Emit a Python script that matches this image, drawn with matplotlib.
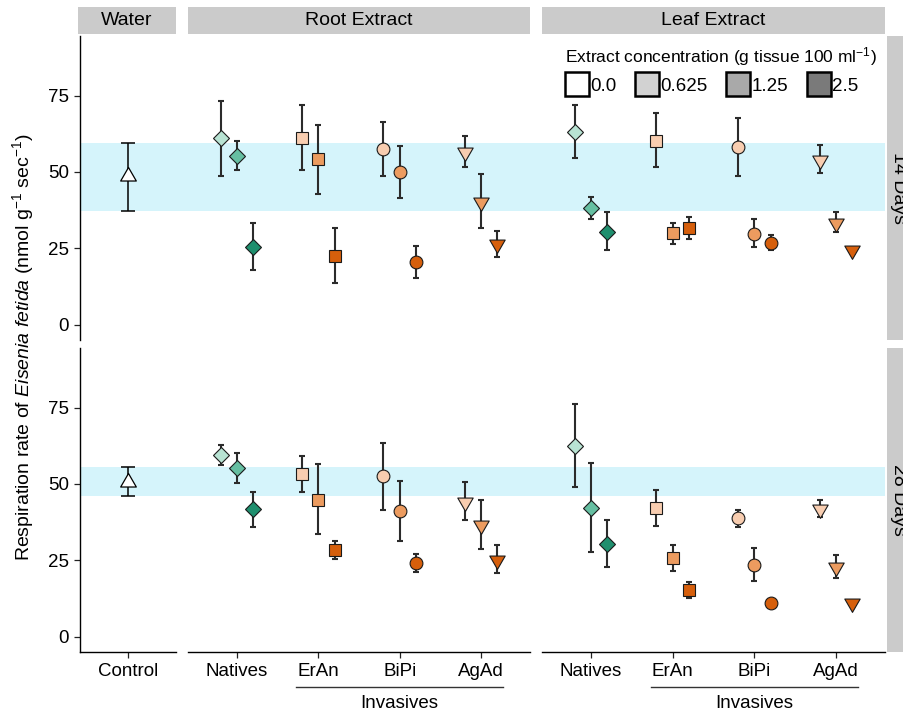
import matplotlib
matplotlib.use("Agg")
import matplotlib.pyplot as plt
import matplotlib.patches as mpatches
import matplotlib.transforms as mtransforms
from matplotlib.path import Path
from matplotlib.lines import Line2D
import numpy as np

plt.rcParams['font.family'] = ['Liberation Sans', 'DejaVu Sans']
plt.rcParams['mathtext.fontset'] = 'custom'
plt.rcParams['mathtext.rm'] = 'Liberation Sans'
plt.rcParams['mathtext.it'] = 'Liberation Sans:italic'

# ---- data ----
groups = ['Natives', 'ErAn', 'BiPi', 'AgAd']
concs = ['0.625', '1.25', '2.5']
days = ['14 Days', '28 Days']
extracts = ['Root Extract', 'Leaf Extract']

# control (water), one per day: mean, lower, upper
ctrl_mean = [48.8, 50.8]
ctrl_lo = [37.1, 46.1]
ctrl_hi = [59.5, 55.4]

# rows = groups, cols = concentrations
root14_mean = [[61.0, 55.3, 25.6], [61.2, 54.1, 22.6], [57.4, 49.9, 20.5], [56.6, 40.3, 26.4]]
root14_lo = [[48.7, 50.7, 17.8], [50.5, 42.8, 13.5], [48.6, 41.5, 15.2], [51.7, 31.7, 22.2]]
root14_hi = [[73.3, 60.2, 33.4], [71.9, 65.4, 31.8], [66.2, 58.4, 25.7], [61.9, 49.3, 30.8]]

leaf14_mean = [[63.2, 38.3, 30.5], [60.2, 30.0, 31.6], [58.3, 29.7, 26.9], [53.9, 33.4, 24.5]]
leaf14_lo = [[54.6, 34.7, 24.3], [51.5, 26.5, 28.0], [48.7, 25.3, 24.5], [49.8, 30.5, 23.8]]
leaf14_hi = [[71.9, 41.9, 36.8], [69.2, 33.4, 35.2], [67.5, 34.5, 29.3], [58.8, 37.0, 25.2]]

root28_mean = [[59.4, 55.3, 41.7], [53.3, 44.9, 28.3], [52.5, 41.1, 24.2], [44.2, 36.5, 25.2]]
root28_lo = [[56.1, 50.4, 36.0], [47.3, 33.6, 25.3], [41.4, 31.2, 21.3], [38.2, 28.8, 20.9]]
root28_hi = [[62.7, 60.0, 47.4], [59.1, 56.4, 31.4], [63.3, 51.1, 27.2], [50.6, 44.7, 30.0]]

leaf28_mean = [[62.5, 42.2, 30.4], [42.2, 25.9, 15.2], [38.7, 23.5, 11.1], [41.7, 22.9, 10.9]]
leaf28_lo = [[48.9, 27.7, 22.7], [36.3, 21.6, 12.8], [35.8, 18.2, 10.6], [39.3, 19.1, 10.4]]
leaf28_hi = [[76.1, 56.7, 38.1], [48.1, 30.1, 17.9], [41.5, 28.9, 11.6], [44.7, 26.9, 11.4]]

panel_data = {
    ('14 Days', 'Root Extract'): (root14_mean, root14_lo, root14_hi),
    ('14 Days', 'Leaf Extract'): (leaf14_mean, leaf14_lo, leaf14_hi),
    ('28 Days', 'Root Extract'): (root28_mean, root28_lo, root28_hi),
    ('28 Days', 'Leaf Extract'): (leaf28_mean, leaf28_lo, leaf28_hi),
}

# ---- styles ----
green = ['#b8e3d3', '#66bfa2', '#1f8f6e']
orange = ['#f8cdb0', '#ec9b5f', '#d65f0c']
legend_grey = ['#ffffff', '#d2d2d2', '#a9a9a9', '#7a7a7a']


def triangle(up=True):
    s = 1 if up else -1
    v = [(0, s * 1.0), (-0.866, -s * 0.5), (0.866, -s * 0.5), (0, s * 1.0)]
    return Path(v, [Path.MOVETO, Path.LINETO, Path.LINETO, Path.CLOSEPOLY])


tri_up = triangle(True)
tri_dn = triangle(False)
marker_of = {'Natives': ('D', 7.8), 'ErAn': ('s', 8.8), 'BiPi': ('o', 9.2), 'AgAd': (tri_dn, 12.8)}
offsets = [-0.2, 0.0, 0.2]
band_col = '#d5f4fb'
strip_col = '#cbcbcb'
err_col = '#2b2b2b'

W, H = 904, 715
fig = plt.figure(figsize=(W / 100, H / 100), dpi=100)


def fx(px):
    return px / W


def fy(py):
    return 1 - py / H


col_px = [(80, 176), (188, 530), (542, 885)]
row_px = [(36, 340), (348, 652)]
axes = {}
for r, (t, b) in enumerate(row_px):
    for c, (l, rr) in enumerate(col_px):
        ax = fig.add_axes([fx(l), fy(b), fx(rr - l), (b - t) / H])
        ax.set_facecolor('none')
        ax.set_ylim(-5, 94.5)
        for s in ax.spines.values():
            s.set_visible(False)
        axes[(r, c)] = ax

# strips on top
for c, name in enumerate(['Water'] + extracts):
    l, rr = col_px[c]
    sax = fig.add_axes([fx(l - 2 if c == 0 else l), fy(34), fx(rr - l + (2 if c == 0 else 0)), 27 / H])
    sax.set_facecolor(strip_col)
    sax.set_xticks([])
    sax.set_yticks([])
    for s in sax.spines.values():
        s.set_visible(False)
    sax.text(0.5, 0.5, name, ha='center', va='center', fontsize=14, transform=sax.transAxes)

# strips on right (cut by the figure edge, as in the original)
for r, name in enumerate(days):
    t, b = row_px[r]
    sax = fig.add_axes([fx(887), fy(b), fx(24), (b - t) / H])
    sax.set_facecolor(strip_col)
    sax.set_xticks([])
    sax.set_yticks([])
    for s in sax.spines.values():
        s.set_visible(False)
    sax.text(0.5, 0.5, name, ha='center', va='center', fontsize=14, rotation=270,
             transform=sax.transAxes)

for r, day in enumerate(days):
    # control band, continuous across panels
    wax = axes[(r, 0)]
    trans = mtransforms.blended_transform_factory(fig.transFigure, wax.transData)
    band = mpatches.Rectangle((fx(80), ctrl_lo[r]), fx(885 - 80), ctrl_hi[r] - ctrl_lo[r],
                              transform=trans, color=band_col, lw=0, zorder=-1)
    fig.patches.append(band)

    # water panel
    wax.set_xlim(0.4, 1.6)
    wax.errorbar([1], [ctrl_mean[r]],
                 yerr=[[ctrl_mean[r] - ctrl_lo[r]], [ctrl_hi[r] - ctrl_mean[r]]],
                 fmt='none', ecolor='black', elinewidth=1.1, capsize=5, capthick=1.1, zorder=2)
    wax.plot([1], [ctrl_mean[r]], ls='none', marker=tri_up, ms=13, mfc='white', mec='black',
             mew=0.9, zorder=3)
    wax.spines['left'].set_visible(True)
    wax.spines['left'].set_linewidth(1.0)
    wax.set_yticks([0, 25, 50, 75])
    wax.tick_params(axis='y', labelsize=13.5, length=4, width=0.9, pad=4, colors='#222222')
    wax.tick_params(axis='y', labelcolor='black')

    for c, ext in enumerate(extracts):
        ax = axes[(r, c + 1)]
        ax.set_xlim(0.4, 4.6)
        ax.set_yticks([])
        mean, lo, hi = panel_data[(day, ext)]
        for g, grp in enumerate(groups):
            mk, ms = marker_of[grp]
            cols = green if grp == 'Natives' else orange
            for k in range(len(concs)):
                x = g + 1 + offsets[k]
                m = mean[g][k]
                ax.errorbar([x], [m], yerr=[[m - lo[g][k]], [hi[g][k] - m]], fmt='none',
                            ecolor=err_col, elinewidth=1.5, capsize=2.3, capthick=1.5, zorder=2)
                ax.plot([x], [m], ls='none', marker=mk, ms=ms, mfc=cols[k], mec='#1a1a1a',
                        mew=0.8, zorder=3)

    for c in range(3):
        ax = axes[(r, c)]
        if r == 0:
            ax.set_xticks([])
        else:
            ax.spines['bottom'].set_visible(True)
            ax.spines['bottom'].set_linewidth(1.0)
            if c == 0:
                ax.set_xticks([1])
                ax.set_xticklabels(['Control'])
            else:
                ax.set_xticks([1, 2, 3, 4])
                ax.set_xticklabels(groups)
                tb = mtransforms.blended_transform_factory(ax.transData, ax.transAxes)
                ax.plot([1.73, 4.27], [-0.115, -0.115], color='#333333', lw=1.0,
                        transform=tb, clip_on=False)
                ax.text(3, -0.168, 'Invasives', ha='center', va='center', fontsize=13.5,
                        transform=tb)
            ax.tick_params(axis='x', labelsize=13.5, length=4, width=0.9, pad=4, colors='#222222')
            ax.tick_params(axis='x', labelcolor='black')

fig.text(0.026, 0.515,
         'Respiration rate of $\\mathit{Eisenia\\ fetida}$ (nmol g$^{-1}$ sec$^{-1}$)',
         rotation=90, ha='center', va='center', fontsize=14)

handles = [Line2D([], [], ls='none', marker='s', ms=17, mfc=c, mec='black', mew=1.8)
           for c in legend_grey]
fig.legend(handles, ['0.0'] + concs, title='Extract concentration (g tissue 100 ml$^{-1}$)',
           ncol=4, loc='upper right', bbox_to_anchor=(fx(884), fy(38)), frameon=False,
           handletextpad=0.05, columnspacing=1.0, handlelength=1.3, borderaxespad=0,
           fontsize=13.5, title_fontsize=12.5, alignment='left')

plt.savefig('out.png', dpi=100)
